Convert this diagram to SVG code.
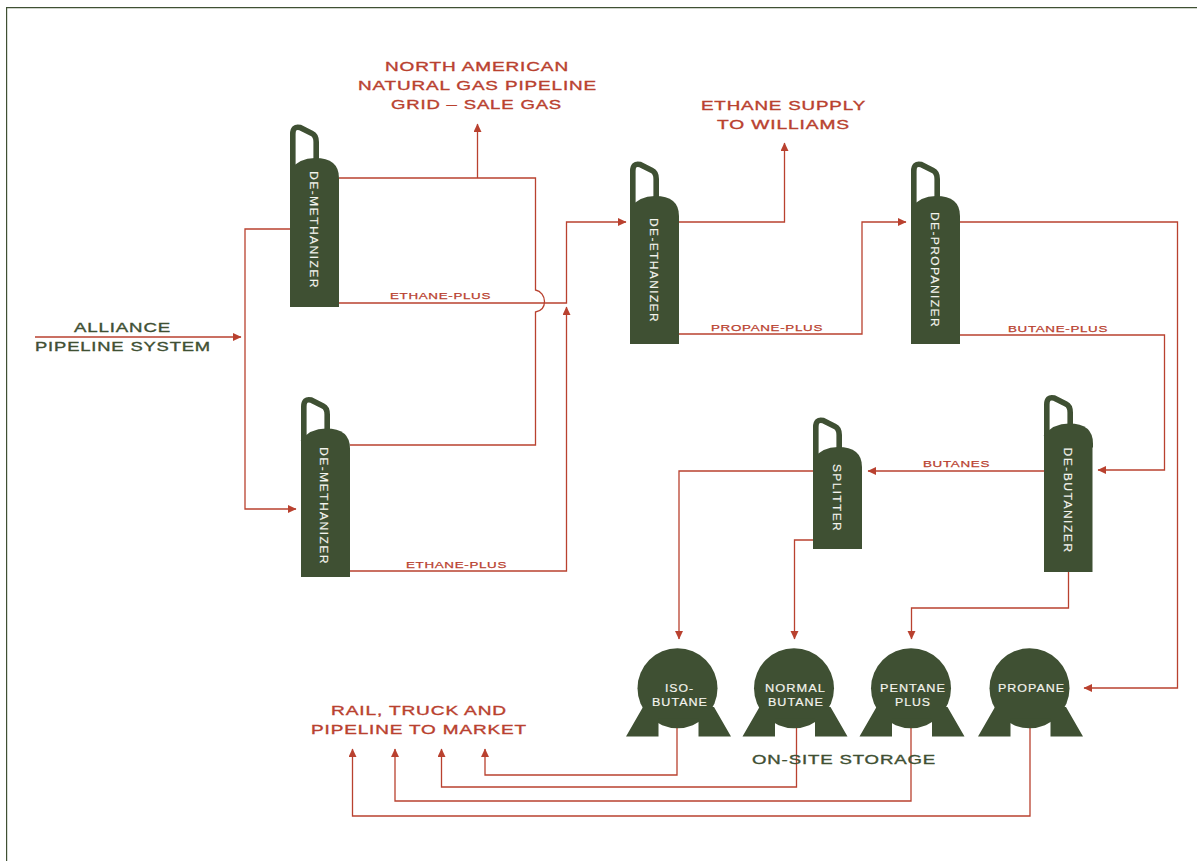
<svg xmlns="http://www.w3.org/2000/svg" width="1197" height="861" viewBox="0 0 1197 861">
<style>
.bg{fill:#fff}
.frame{fill:none;stroke:#3f5033;stroke-width:1.2}
.c{fill:none;stroke:#b9412f;stroke-width:1.3}
.a{marker-end:url(#arrow)}
.n{fill:#3f5033}
.h{fill:none;stroke:#3f5033;stroke-width:5.6}
text{font-family:"Liberation Sans",Arial,sans-serif}
.t{fill:#b9412f;stroke:#b9412f;stroke-width:.35px;font-size:13px;letter-spacing:.6px}
.g{fill:#3f5033;stroke:#3f5033;stroke-width:.35px;font-size:13px;letter-spacing:.6px}
.s{fill:#b9412f;stroke:#b9412f;stroke-width:.25px;font-size:9.8px;letter-spacing:.5px}
.w{fill:#f4f4ee;stroke:#f4f4ee;stroke-width:.15px;font-size:10px;letter-spacing:.8px}
.v{fill:#f4f4ee;stroke:#f4f4ee;stroke-width:.15px;font-size:10.5px;letter-spacing:1.2px}
</style>
<defs>
<marker id="arrow" markerUnits="userSpaceOnUse" markerWidth="9" markerHeight="9" refX="8" refY="4" orient="auto"><path d="M0 0L8.500 4L0 8Z" fill="#b9412f"/></marker>
<path id="handle" d="M2.800 54V10Q2.800 1.800 10 3.500L22 9.500Q26.200 11.500 26.200 18V42"/>
<path id="dome" d="M0 12Q9 0 25 0Q49 0 49 20V24H0Z"/>
<path id="tank" d="M-34.500 18.500L-51.500 48H-19V30H21V48H53.500L36.500 18.500Z"/>
</defs>
<rect class="bg" width="1197" height="861"/>
<path class="frame" d="M6.600 861V7.600H1197"/>
<g id="connectors">
<path class="c a" d="M35 337H241"/>
<path class="c a" d="M290 229H245V509H296"/>
<path class="c" d="M339 178H535.500V290C541 291 544.500 296 544.500 301.500C544.500 307 541 311 535.500 312V445H350"/>
<path class="c a" d="M477.500 178V124"/>
<path class="c a" d="M339 303H566.500V222H626"/>
<path class="c a" d="M349 571H566.500V307"/>
<path class="c a" d="M679 222H784.500V143"/>
<path class="c a" d="M679 334H862V222H906"/>
<path class="c a" d="M960 222H1177.500V688H1084"/>
<path class="c a" d="M960 335H1164.500V470H1098"/>
<path class="c a" d="M1044 471H868"/>
<path class="c a" d="M813 471H679V639"/>
<path class="c a" d="M813 540H794.500V639"/>
<path class="c a" d="M1068.500 572V608H911.500V639"/>
<path class="c a" d="M677 728V775H485V749"/>
<path class="c a" d="M796.500 728V787H441.500V749"/>
<path class="c a" d="M911 728V801H395V749"/>
<path class="c a" d="M1030 728V816H352.500V749"/>
</g>
<g id="demethanizer-1" class="n"><use class="h" href="#handle" x="290" y="124"/><use href="#dome" x="290" y="158"/><rect x="290" y="178" width="49" height="129"/><text class="v" transform="translate(310 171) rotate(90)" textLength="118" lengthAdjust="spacingAndGlyphs">DE-METHANIZER</text></g>
<g id="demethanizer-2" class="n"><use class="h" href="#handle" x="301" y="396.500"/><use href="#dome" x="301" y="428.500"/><rect x="301" y="448" width="49" height="129"/><text class="v" transform="translate(320 447) rotate(90)" textLength="118" lengthAdjust="spacingAndGlyphs">DE-METHANIZER</text></g>
<g id="deethanizer" class="n"><use class="h" href="#handle" x="630" y="161"/><use href="#dome" x="630" y="196"/><rect x="630" y="216" width="49" height="128"/><text class="v" transform="translate(649.500 218) rotate(90)" textLength="105" lengthAdjust="spacingAndGlyphs">DE-ETHANIZER</text></g>
<g id="depropanizer" class="n"><use class="h" href="#handle" x="911" y="161"/><use href="#dome" x="911" y="196"/><rect x="911" y="216" width="49" height="128"/><text class="v" transform="translate(930.500 212) rotate(90)" textLength="116" lengthAdjust="spacingAndGlyphs">DE-PROPANIZER</text></g>
<g id="debutanizer" class="n"><use class="h" href="#handle" x="1044" y="394.500"/><use href="#dome" x="1044" y="423.500"/><rect x="1044" y="443" width="48.500" height="129"/><text class="v" transform="translate(1063.500 447.500) rotate(90)" textLength="106" lengthAdjust="spacingAndGlyphs">DE-BUTANIZER</text></g>
<g id="splitter" class="n"><use class="h" href="#handle" x="813" y="417"/><use href="#dome" x="813" y="447"/><rect x="813" y="467" width="49" height="82"/><text class="v" transform="translate(833 464) rotate(90)" textLength="68" lengthAdjust="spacingAndGlyphs">SPLITTER</text></g>
<g id="iso-butane" class="n"><circle cx="677.500" cy="688.300" r="40"/><use href="#tank" x="677.500" y="688.500"/><text class="w" x="665" y="692" textLength="29" lengthAdjust="spacingAndGlyphs">ISO-</text><text class="w" x="652" y="706" textLength="56" lengthAdjust="spacingAndGlyphs">BUTANE</text></g>
<g id="normal-butane" class="n"><circle cx="794" cy="688.300" r="40"/><use href="#tank" x="794" y="688.500"/><text class="w" x="765" y="692" textLength="61" lengthAdjust="spacingAndGlyphs">NORMAL</text><text class="w" x="768" y="706" textLength="56" lengthAdjust="spacingAndGlyphs">BUTANE</text></g>
<g id="pentane-plus" class="n"><circle cx="911" cy="688.300" r="40"/><use href="#tank" x="911" y="688.500"/><text class="w" x="880" y="692" textLength="66" lengthAdjust="spacingAndGlyphs">PENTANE</text><text class="w" x="895" y="706" textLength="36" lengthAdjust="spacingAndGlyphs">PLUS</text></g>
<g id="propane" class="n"><circle cx="1029.500" cy="688.300" r="40"/><use href="#tank" x="1029.500" y="688.500"/><text class="w" x="998" y="692" textLength="67" lengthAdjust="spacingAndGlyphs">PROPANE</text></g>
<g id="labels">
<text class="t" x="385" y="71" textLength="184" lengthAdjust="spacingAndGlyphs">NORTH AMERICAN</text>
<text class="t" x="358" y="89.500" textLength="239" lengthAdjust="spacingAndGlyphs">NATURAL GAS PIPELINE</text>
<text class="t" x="391" y="108.500" textLength="171" lengthAdjust="spacingAndGlyphs">GRID – SALE GAS</text>
<text class="t" x="701" y="110" textLength="165" lengthAdjust="spacingAndGlyphs">ETHANE SUPPLY</text>
<text class="t" x="717" y="129" textLength="133" lengthAdjust="spacingAndGlyphs">TO WILLIAMS</text>
<text class="g" x="74" y="331.500" textLength="97" lengthAdjust="spacingAndGlyphs">ALLIANCE</text>
<text class="g" x="35" y="351" textLength="176" lengthAdjust="spacingAndGlyphs">PIPELINE SYSTEM</text>
<text class="t" x="331" y="715" textLength="176" lengthAdjust="spacingAndGlyphs">RAIL, TRUCK AND</text>
<text class="t" x="311" y="734" textLength="216" lengthAdjust="spacingAndGlyphs">PIPELINE TO MARKET</text>
<text class="g" x="752" y="764" textLength="184" lengthAdjust="spacingAndGlyphs">ON-SITE STORAGE</text>
<text class="s" x="390" y="299" textLength="101" lengthAdjust="spacingAndGlyphs">ETHANE-PLUS</text>
<text class="s" x="406" y="568" textLength="101" lengthAdjust="spacingAndGlyphs">ETHANE-PLUS</text>
<text class="s" x="711" y="331" textLength="112" lengthAdjust="spacingAndGlyphs">PROPANE-PLUS</text>
<text class="s" x="1008" y="332" textLength="100" lengthAdjust="spacingAndGlyphs">BUTANE-PLUS</text>
<text class="s" x="923" y="467" textLength="67" lengthAdjust="spacingAndGlyphs">BUTANES</text>
</g>
</svg>
